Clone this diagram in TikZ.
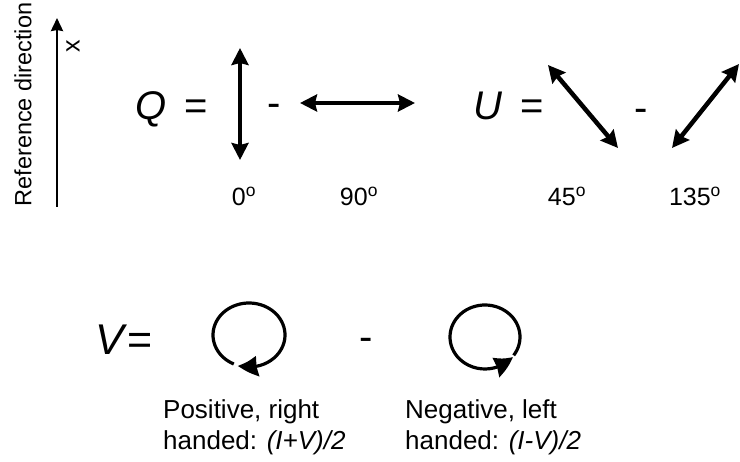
\documentclass[tikz,border=0pt]{standalone}
\usepackage{fontspec}
\setmainfont{Liberation Sans}
\usetikzlibrary{arrows.meta,bending}

\tikzset{
  lbl/.style={font=\fontsize{25}{30}\selectfont, inner sep=0pt},
  biglbl/.style={font=\fontsize{40}{48}\selectfont, inner sep=0pt},
  note/.style={font=\fontsize{26}{31}\selectfont, inner sep=0pt, align=left, anchor=north west},
  polarrow/.style={line width=4.5pt, {Stealth[length=17pt,width=17pt,inset=2pt]}-{Stealth[length=17pt,width=17pt,inset=2pt]}},
  refarrow/.style={line width=2.5pt, -{Stealth[length=13pt,width=12pt,inset=1pt]}},
  circarrow/.style={line width=3.2pt, -{Stealth[length=20pt,width=20pt,inset=1pt,bend]}},
}

\begin{document}
\begin{tikzpicture}[x=1pt,y=-1pt]
\useasboundingbox (0,0) rectangle (740,462);
% Reference direction
\coordinate (refS) at (57,207);
\coordinate (refE) at (57,18);
\draw[refarrow] (refS) -- (refE);
\node[lbl, font=\fontsize{23.5}{28}\selectfont, rotate=90] (reftxt) at (23,104.5) {Reference direction};
\node[lbl, rotate=90] (xlbl) at (73,46) {x};

% Q = 0 - 90
\node[biglbl, anchor=base] (Q) at (151,120) {\textit{Q}};
\node[biglbl, anchor=base] (Qeq) at (196,120) {=};
\coordinate (q0a) at (240,48);
\coordinate (q0b) at (240,160);
\draw[polarrow] (q0a) -- (q0b);
\node[biglbl, anchor=base] (Qminus) at (274,117) {-};
\coordinate (q90a) at (300,103);
\coordinate (q90b) at (415,103);
\draw[polarrow] (q90a) -- (q90b);
\node[lbl, anchor=base] (l0) at (244,206) {0\textsuperscript{o}};
\node[lbl, anchor=base] (l90) at (359,206) {90\textsuperscript{o}};

% U = 45 - 135
\node[biglbl, anchor=base] (U) at (488,120) {\textit{U}};
\node[biglbl, anchor=base] (Ueq) at (532,120) {=};
\coordinate (u45a) at (548,65);
\coordinate (u45b) at (618,148);
\draw[polarrow] (u45a) -- (u45b);
\node[biglbl, anchor=base] (Uminus) at (641,122) {-};
\coordinate (u135a) at (672,148);
\coordinate (u135b) at (739,64);
\draw[polarrow] (u135a) -- (u135b);
\node[lbl, anchor=base] (l45) at (567,206) {45\textsuperscript{o}};
\node[lbl, anchor=base] (l135) at (695,206) {135\textsuperscript{o}};

% V = right - left
\node[biglbl, font=\fontsize{43}{50}\selectfont, anchor=base west] (V) at (95,355) {\textit{V}=};
\coordinate (cpos) at (249,335);
\draw[circarrow] (cpos) ++(115:36 and 32) arc[start angle=115, end angle=468, x radius=36, y radius=32];
\node[biglbl, anchor=base] (Vminus) at (366,351) {-};
\coordinate (cneg) at (485,337);
\draw[circarrow] (cneg) ++(35:35 and 32) arc[start angle=395, end angle=38, x radius=35, y radius=32];
\node[note] (pos) at (163,399) {Positive, right\\handed: \textit{(I+V)/2}};
\node[note] (neg) at (405,399) {Negative, left\\handed: \textit{(I-V)/2}};
\end{tikzpicture}
\end{document}
